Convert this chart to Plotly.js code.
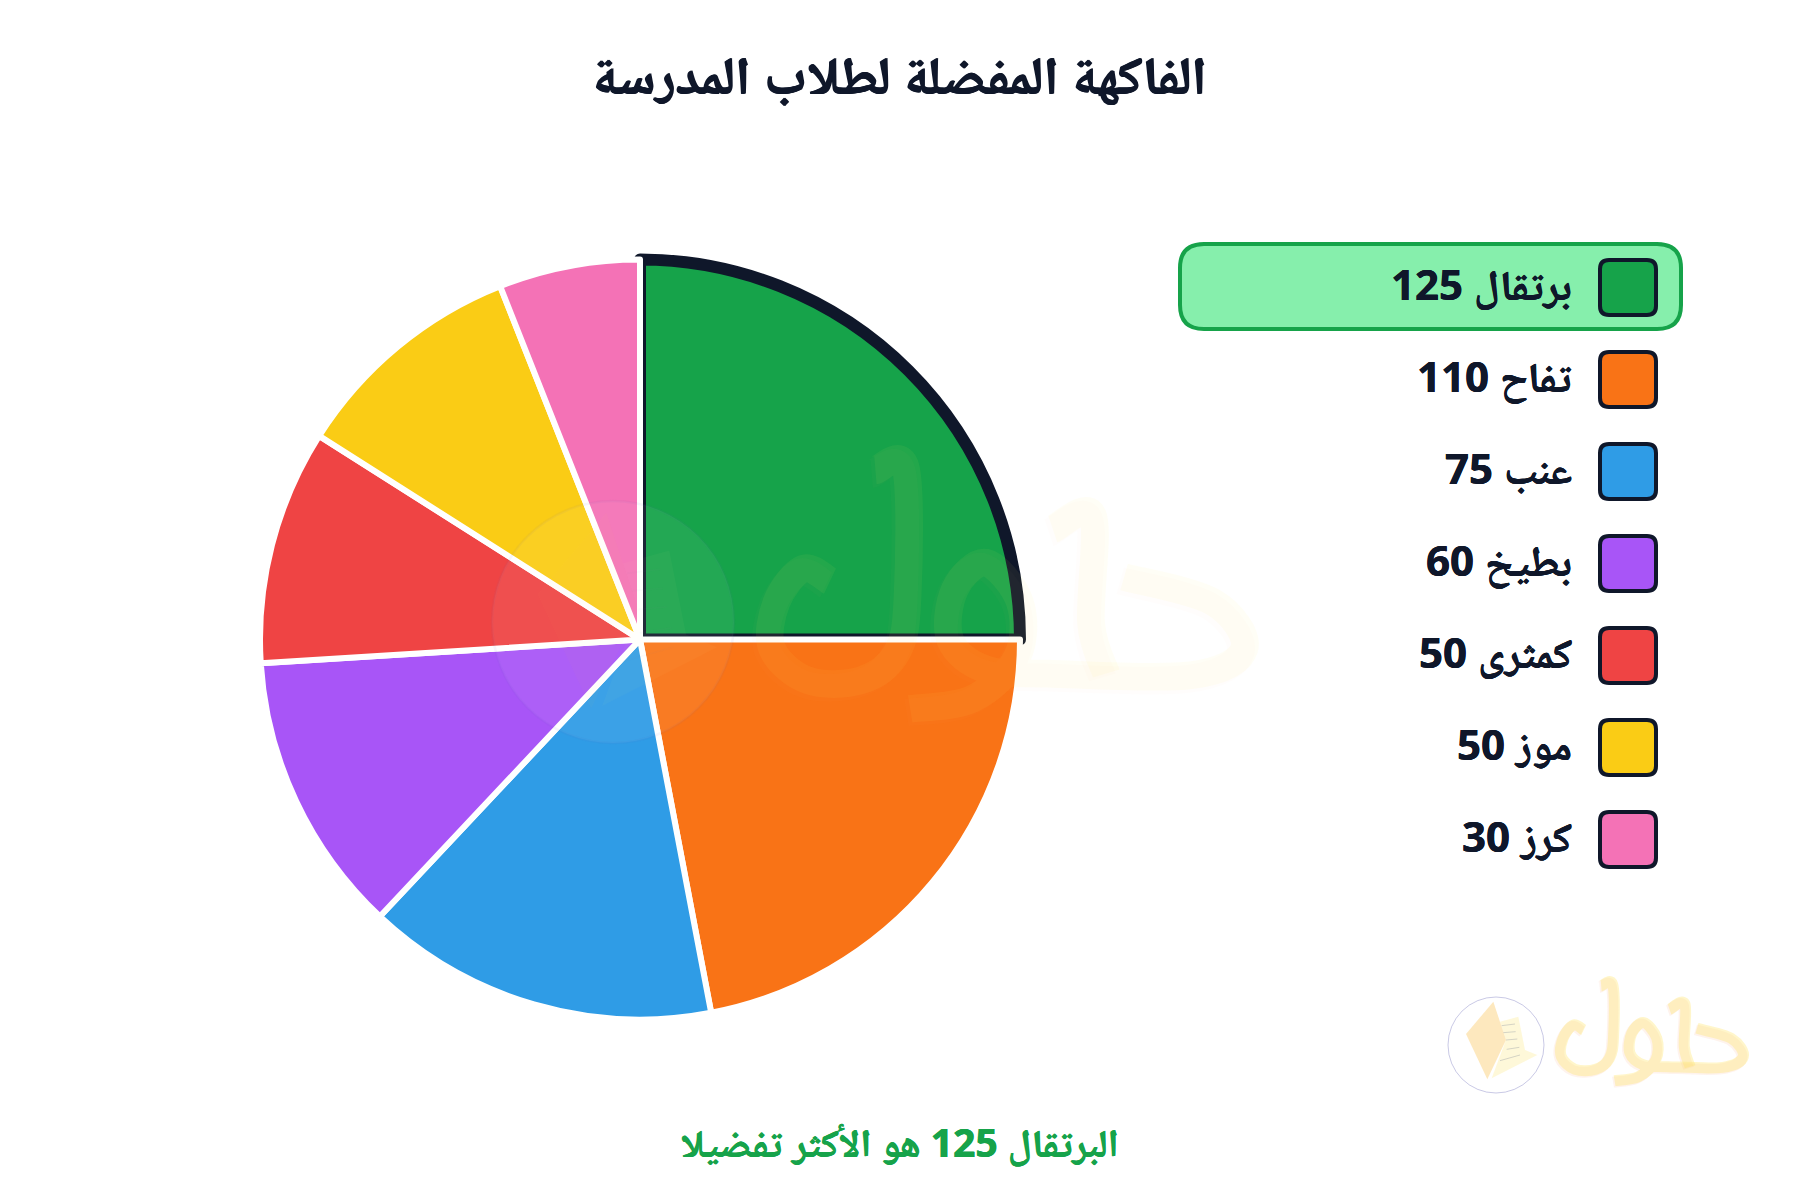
<!DOCTYPE html>
<html>
<head>
<meta charset="utf-8">
<script src="https://cdn.plot.ly/plotly-3.0.1.min.js"></script>
<style>html,body{margin:0;padding:0;background:#fff}#chart{width:1800px;height:1200px}</style>
</head>
<body>
<div id="chart"></div>
<script>
const categories = ['برتقال','تفاح','عنب','بطيخ','كمثرى','موز','كرز'];
const values = [125,110,75,60,50,50,30];
const colors = ['#16a34a','#f97316','#2f9ce6','#a855f7','#ef4444','#facc15','#f472b6'];
const lineColors = ['#0f172a','#ffffff','#ffffff','#ffffff','#ffffff','#ffffff','#ffffff'];
const lineWidths = [12,6,6,6,6,6,6];
const titleText = 'الفاكهة المفضلة لطلاب المدرسة';
const noteText = 'البرتقال 125 هو الأكثر تفضيلا';

const W = 1800, H = 1200;
const FONT = '"Noto Sans", "Noto Naskh Arabic", sans-serif';
const px = x => x / W, py = y => 1 - y / H;
const P = (x, y) => px(x) + ',' + py(y);
function rr(x0, y0, x1, y1, r) {
  return 'M' + P(x0 + r, y0) + ' L' + P(x1 - r, y0) + ' Q' + P(x1, y0) + ' ' + P(x1, y0 + r) +
    ' L' + P(x1, y1 - r) + ' Q' + P(x1, y1) + ' ' + P(x1 - r, y1) +
    ' L' + P(x0 + r, y1) + ' Q' + P(x0, y1) + ' ' + P(x0, y1 - r) +
    ' L' + P(x0, y0 + r) + ' Q' + P(x0, y0) + ' ' + P(x0 + r, y0) + ' Z';
}
const embolden = (c, d) => d + 'px 0 0 ' + c + ', -' + d + 'px 0 0 ' + c;
const cx = 640, cy = 639.5, R = 380;
const rowTop = 287.5, rowStep = 92;

const shapes = [];
const annotations = [];

// Legend highlight
shapes.push({type:'path', xref:'paper', yref:'paper', path: rr(1180,244,1681,329,24),
  fillcolor:'#86efac', line:{color:'#16a34a', width:4}});
categories.forEach((c, i) => {
  const y = rowTop + i * rowStep;
  shapes.push({type:'path', xref:'paper', yref:'paper', path: rr(1600,y-27.5,1656,y+27.5,9),
    fillcolor: colors[i], line:{color:'#0f172a', width:4}});
  annotations.push({xref:'paper', yref:'paper', x: px(1573.5), y: py(y - 4), xanchor:'right', yanchor:'middle',
    showarrow:false, text: c + ' ' + values[i],
    font:{family:FONT, size:42, color:'#0f172a', weight:700, shadow:embolden('#0f172a',0.3)}});
});
annotations.push({xref:'paper', yref:'paper', x: px(900), y: py(74), xanchor:'center', yanchor:'middle', showarrow:false,
  text:titleText, font:{family:FONT, size:53.5, color:'#0f172a', weight:700, shadow:embolden('#0f172a',0.7)}});
annotations.push({xref:'paper', yref:'paper', x: px(900), y: py(1141), xanchor:'center', yanchor:'middle', showarrow:false,
  text:noteText, font:{family:FONT, size:39, color:'#16a34a', weight:700, shadow:embolden('#16a34a',0.4)}});

// Watermark logo, drawn as decoration around a circle centre, in units of a 3x crop
const logoStrokes = [
  [[555,240],[525,225],[495,265],[490,320],[530,358],[590,358],[630,325],[642,260],[640,105],[606,108]],
  [[645,392],[715,380],[765,330],[768,265],[730,218],[695,250],[690,310],[730,345],[800,350],[960,352],[1020,320],[985,265],[885,235]],
  [[805,178],[850,162],[848,290],[865,350]]
];
const bookLeft = [[280,155],[318,270],[262,388],[198,252]];
const bookRight = [[300,215],[355,200],[375,300],[412,315],[275,385],[318,270]];
const bookLines = [[[305,227],[345,222]],[[310,248],[347,245]],[[318,270],[352,267]],[[320,298],[358,292]],[[300,332],[360,315]]];
function smooth(pts, T) {
  let d = 'M' + T(pts[0]);
  for (let i = 0; i < pts.length - 1; i++) {
    const p0 = pts[Math.max(i-1,0)], p1 = pts[i], p2 = pts[i+1], p3 = pts[Math.min(i+2,pts.length-1)];
    const c1 = [p1[0]+(p2[0]-p0[0])/6, p1[1]+(p2[1]-p0[1])/6];
    const c2 = [p2[0]-(p3[0]-p1[0])/6, p2[1]-(p3[1]-p1[1])/6];
    d += ' C' + T(c1) + ' ' + T(c2) + ' ' + T(p2);
  }
  return d;
}
function poly(pts, T) { return 'M' + pts.map(T).join(' L') + ' Z'; }
function line2(pts, T) { return 'M' + pts.map(T).join(' L'); }
function logo(cxL, cyL, s, a, aBook, aFill, aRing, stretch, dx, dy) {
  const T = p => P(cxL + (p[0]-288)*s/3, cyL + (p[1]-285)*s/3);
  const Tt = p => P(cxL + dx + (p[0]-288)*s*stretch/3, cyL + dy + (p[1]-285)*s/3);
  const Ts = p => P(cxL + dx + (p[0]-288)*s*stretch/3 - 1.5*s, cyL + dy + (p[1]-285)*s/3 + 1.5*s);
  const add = o => shapes.push(Object.assign({type:'path', xref:'paper', yref:'paper'}, o));
  logoStrokes.forEach(st => add({path:smooth(st,Ts), line:{color:'rgba(250,170,130,'+(a*0.4)+')', width:11*s}, fillcolor:'rgba(0,0,0,0)'}));
  logoStrokes.forEach(st => add({path:smooth(st,Tt), line:{color:'rgba(255,230,110,'+a+')', width:11*s}, fillcolor:'rgba(0,0,0,0)'}));
  add({path:poly(bookRight,T), fillcolor:'rgba(253,240,170,'+aBook+')', line:{width:0}});
  add({path:poly(bookLeft,T), fillcolor:'rgba(250,205,110,'+aBook+')', line:{width:0}});
  bookLines.forEach(l => add({path:line2(l,T), line:{color:'rgba(120,130,150,'+aBook+')', width:0.7*s}}));
  const r = 48*s;
  shapes.push({type:'circle', xref:'paper', yref:'paper', x0:px(cxL-r), x1:px(cxL+r), y0:py(cyL+r), y1:py(cyL-r),
    fillcolor:'rgba(255,255,255,'+aFill+')', line:{color:'rgba(100,100,180,'+aRing+')', width:1*s}});
}
logo(613, 622, 2.52, 0.06, 0.03, 0.06, 0.06, 1.061, -21, -3);
logo(1496, 1045, 1, 0.36, 0.45, 0, 0.35, 1.03, -4, 0);

const data = [{
  type:'pie', labels:categories, values:values, sort:false, direction:'clockwise', rotation:0,
  marker:{colors:colors, line:{color:lineColors, width:lineWidths}},
  textinfo:'none', hoverinfo:'label+value', showlegend:false,
  domain:{x:[px(cx-R), px(cx+R)], y:[py(cy+R), py(cy-R)]}
}];
const layout = {width:W, height:H, margin:{l:0,r:0,t:0,b:0}, paper_bgcolor:'#ffffff', plot_bgcolor:'#ffffff',
  showlegend:false, shapes:shapes, annotations:annotations};
Plotly.newPlot('chart', data, layout, {displayModeBar:false, staticPlot:true});
</script>
</body>
</html>
